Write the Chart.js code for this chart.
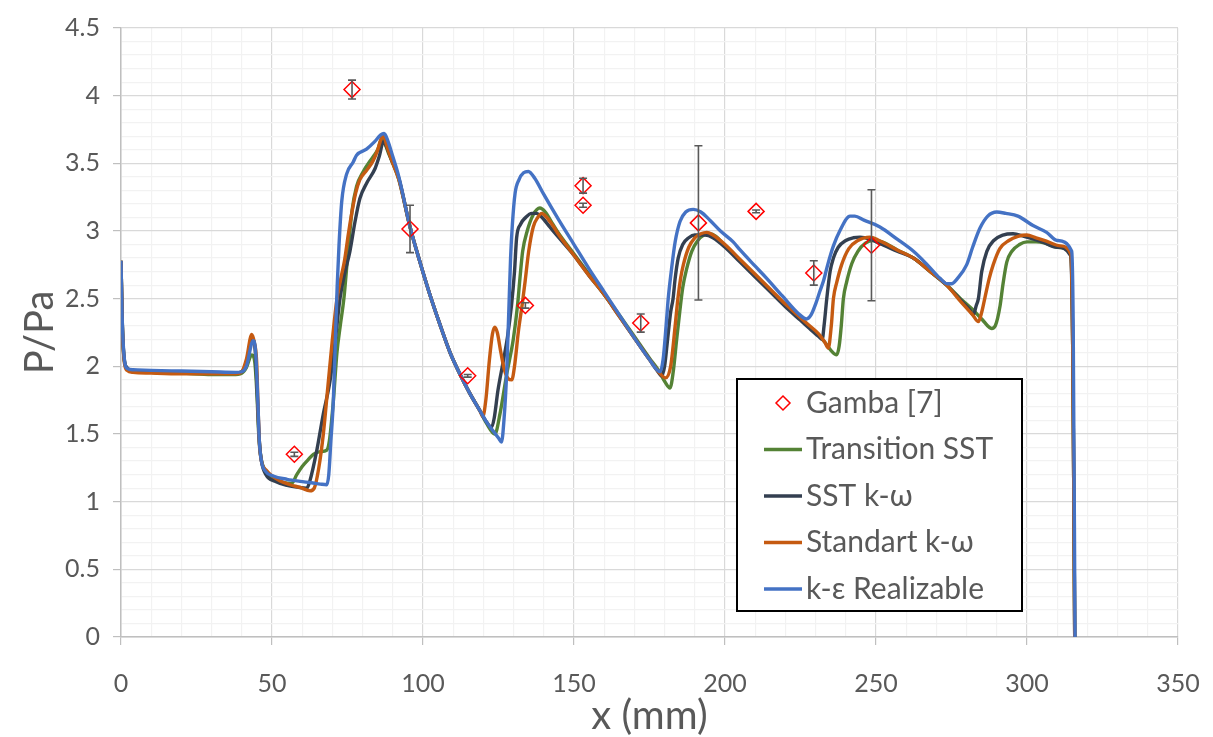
<!DOCTYPE html>
<html><head><meta charset="utf-8">
<script src="https://cdn.jsdelivr.net/npm/chart.js@4.4.1/dist/chart.umd.min.js"></script>
<style>html,body{margin:0;padding:0;background:#fff}#wrap{width:1213px;height:737px}</style>
</head><body><div id="wrap"><canvas id="c" width="1213" height="737"></canvas></div>
<script>
// ---------- DATA ----------
const gambaX   = [57.4, 76.5, 95.7, 114.8, 133.9, 153, 153, 172.1, 191.2, 210.3, 229.4, 248.5];
const gambaY   = [1.35, 4.045, 3.015, 1.93, 2.45, 3.335, 3.19, 2.32, 3.06, 3.145, 2.69, 2.895];
const gambaErr = [0.015, 0.07, 0.175, 0.01, 0.02, 0.055, 0.015, 0.067, 0.57, 0.01, 0.09, 0.41];

const transX = [0,0.4,1,2,4,10,20,30,37,40,41.5,43.3,44.3,45,45.6,46.3,47.5,50,54,56.5,58.2,60,62,63.7,66,68.1,69,70.3,71.5,72.6,73.8,75,76.5,78,80,83.5,85,86.3,87.3,88.5,90,92,95.7,99,102,105.6,109,112.3,115.5,118.9,121,123.8,125.5,127.7,129.9,131.3,132.1,133,134.5,136.5,138.7,140.5,143,145,150,155,160,165,170,175,178,180,181.8,182.8,184,185,186,187.3,189,191,193,195,197,200,205,210,215,220,225,228,231,233,235,237,237.8,238.5,239.2,240.3,242,244,246.5,249,252,257,262.4,268,273.4,278,282,285,288.3,289.5,291.1,292,293.3,295,297.5,300,303,306,310,314.5,315.2,315.8];
const transY = [2.78,2.34,2.06,1.985,1.965,1.955,1.95,1.94,1.94,1.95,1.99,2.085,2.03,1.8,1.5,1.33,1.24,1.175,1.14,1.135,1.2,1.26,1.31,1.35,1.37,1.38,1.45,1.74,2.1,2.3,2.5,2.8,3.15,3.33,3.43,3.55,3.6,3.68,3.65,3.58,3.5,3.38,3.03,2.77,2.55,2.31,2.1,1.94,1.8,1.67,1.58,1.5,1.65,1.94,2.2,2.45,2.65,2.85,3.0,3.12,3.17,3.14,3.05,2.98,2.83,2.68,2.53,2.38,2.22,2.06,1.97,1.89,1.84,1.95,2.2,2.4,2.58,2.72,2.85,2.93,2.97,2.98,2.96,2.89,2.78,2.67,2.56,2.45,2.35,2.29,2.23,2.18,2.12,2.085,2.15,2.3,2.5,2.625,2.76,2.85,2.91,2.93,2.92,2.86,2.8,2.7,2.6,2.5,2.42,2.35,2.28,2.3,2.45,2.6,2.77,2.85,2.9,2.92,2.92,2.91,2.88,2.83,2.0,0];

const sstX = [0,0.4,1,2,4,10,20,30,38,40,41.5,43.5,44.5,45.2,45.8,46.5,48,51,55,59,61.5,62.5,64.8,67,69.2,71,72.5,74,75.8,77.5,79.1,81.5,84.1,85.5,86.9,88,89.5,92,95.7,99,102,105.6,109,112.3,115.5,118.9,121,122.7,123.6,124.8,126.6,128,129.3,130.3,131,132.3,134,136,137.5,139,142,145,150,155,160,165,170,175,177.5,179,180,181,182,182.8,183.5,184.5,186,188,190,193.4,196,200,205,210,215,220,225,228,231,232.2,232.8,233.7,234.8,235.9,237.5,240,242.5,244.7,248,252,257,262.4,268,273.4,278,281,282.2,283.2,283.9,285,286.7,289,292,295.4,299,305,310,314.4,315.2,315.8];
const sstY = [2.78,2.35,2.07,1.99,1.965,1.96,1.955,1.95,1.95,1.96,2.02,2.2,2.1,1.75,1.45,1.3,1.2,1.15,1.12,1.105,1.1,1.15,1.375,1.65,1.89,2.2,2.5,2.68,2.85,3.07,3.24,3.36,3.46,3.55,3.66,3.62,3.53,3.39,3.03,2.77,2.55,2.31,2.1,1.94,1.8,1.67,1.59,1.55,1.62,1.82,2.04,2.22,2.45,2.7,2.95,3.05,3.1,3.13,3.13,3.11,3.03,2.95,2.82,2.67,2.53,2.37,2.21,2.05,1.97,1.93,2.0,2.2,2.4,2.5,2.65,2.8,2.9,2.95,2.97,2.97,2.95,2.88,2.77,2.66,2.55,2.44,2.34,2.28,2.22,2.2,2.3,2.5,2.7,2.8,2.88,2.93,2.95,2.955,2.94,2.9,2.85,2.8,2.7,2.6,2.49,2.42,2.38,2.45,2.5,2.7,2.85,2.93,2.97,2.98,2.96,2.92,2.88,2.82,2.0,0];

const stdX = [0,0.4,1,2,4,10,20,30,38,40,41.5,43.3,44.2,44.9,45.5,46,48.2,52.6,56,59.3,62.6,64,65.5,67,68.5,70,71.4,72.8,74,75.3,76.4,77.7,79.1,81.4,83.5,85,86.3,87,88,89.5,92,95.7,99,102,105.6,109,112.3,115.5,118.9,119.8,120.8,122,123,123.8,124.6,125.8,127,128.2,129.4,130.3,131.6,132.8,133.8,135,136.5,138,139.3,141,143,145,150,155,160,165,170,175,178,180.3,182,183.5,184.4,185.3,186.2,188,190,192,194,196,200,205,210,215,220,225,228,231,233,234.2,235.2,235.9,237,238.6,241,244,248,251,257,262.4,268,273.4,278,282,283.9,285,286,287.5,288.8,291,294,297,299.9,303,307,311,314.5,315.2,315.8];
const stdY = [2.78,2.33,2.05,1.97,1.955,1.95,1.945,1.945,1.945,1.96,2.05,2.235,2.17,2.04,1.62,1.375,1.23,1.155,1.125,1.105,1.08,1.1,1.25,1.5,1.85,2.2,2.48,2.65,2.78,2.98,3.13,3.28,3.38,3.45,3.52,3.6,3.69,3.7,3.63,3.53,3.38,3.03,2.77,2.55,2.31,2.1,1.94,1.8,1.67,1.63,1.75,2.05,2.24,2.29,2.25,2.1,1.97,1.91,1.9,2.0,2.26,2.45,2.625,2.85,3.03,3.1,3.13,3.1,3.04,2.97,2.82,2.67,2.53,2.37,2.21,2.05,1.96,1.915,2.0,2.3,2.5,2.65,2.75,2.88,2.95,2.98,2.99,2.97,2.9,2.79,2.68,2.57,2.46,2.36,2.3,2.24,2.18,2.135,2.3,2.5,2.62,2.75,2.87,2.93,2.955,2.93,2.86,2.8,2.7,2.6,2.48,2.38,2.33,2.4,2.5,2.65,2.75,2.87,2.93,2.96,2.97,2.95,2.92,2.89,2.83,2.0,0];

const realX = [0,0.4,1,2,4,10,20,30,38,40,41.5,43.8,44.6,45.3,45.8,46.5,48,50.4,55,59.3,63,66,68.1,68.8,69.5,70.3,71,71.6,72.2,73.1,74.7,76.9,78,81.3,84,86,87.1,88.3,90,92,95.7,99,102,105.6,109,112.3,115.5,118.9,121,123.3,125,126,126.8,127.7,128.4,129,129.6,130.5,131.8,133.3,134.9,137,140,145,150,155,160,165,170,175,178.5,179.5,180.5,181.2,182.3,183.5,185.1,187,189.5,192,195,198.5,202.7,205,210,213.8,219,224.8,227,228.5,230,231.5,232.6,234,235.9,238,241.4,243,246,251.3,257,262.4,267,271.2,273.5,275,277,280,282,284.4,287,290,293,297,302,306.5,310,314.8,315.3,315.9];
const realY = [2.78,2.35,2.08,1.985,1.975,1.97,1.965,1.96,1.955,1.96,2.0,2.19,2.1,1.75,1.45,1.3,1.22,1.19,1.165,1.15,1.14,1.13,1.125,1.2,1.45,1.74,2.2,2.6,2.9,3.22,3.42,3.51,3.56,3.605,3.66,3.71,3.72,3.67,3.55,3.4,3.03,2.77,2.55,2.31,2.1,1.94,1.8,1.67,1.59,1.52,1.47,1.44,1.6,1.95,2.4,2.8,3.05,3.28,3.38,3.43,3.44,3.39,3.27,3.08,2.9,2.72,2.55,2.38,2.21,2.05,1.96,2.05,2.3,2.5,2.72,2.92,3.07,3.14,3.16,3.14,3.08,3.0,2.92,2.86,2.74,2.65,2.52,2.38,2.35,2.38,2.46,2.56,2.63,2.75,2.89,3.0,3.11,3.11,3.08,3.03,2.94,2.85,2.75,2.65,2.61,2.61,2.65,2.75,2.88,3.02,3.11,3.14,3.13,3.11,3.04,2.99,2.93,2.85,2.3,0];

const seriesNames = ['Gamba [7]', 'Transition SST', 'SST k-\u03c9', 'Standart k-\u03c9', 'k-\u03b5 Realizable'];
const xTitle = 'x (mm)';
const yTitle = 'P/Pa';

// ---------- BUILD ----------
const pts = (xs, ys) => xs.map((x, i) => ({x, y: ys[i]}));
const FONT = 'Lato';
const TXT = '#595959';

const lineDs = (label, xs, ys, color, order) => ({
  label, data: pts(xs, ys), showLine: true, borderColor: color, backgroundColor: color,
  borderWidth: 3.4, pointRadius: 0, cubicInterpolationMode: 'monotone', order
});

const datasets = [
  { label: seriesNames[0], data: pts(gambaX, gambaY), showLine: false, pointStyle: 'rectRot',
    pointRadius: 8, borderColor: '#FF0000', backgroundColor: 'rgba(0,0,0,0)', pointBorderWidth: 1.5, order: 0 },
  lineDs(seriesNames[1], transX, transY, '#548235', 4),
  lineDs(seriesNames[2], sstX, sstY, '#333F50', 3),
  lineDs(seriesNames[3], stdX, stdY, '#C55A11', 2),
  lineDs(seriesNames[4], realX, realY, '#4472C4', 1)
];

const isMajorX = v => Math.abs(v % 50) < 1e-6;
const isMajorY = v => Math.abs(Math.round(v * 10) % 5) === 0;

const errorBars = {
  id: 'errorBars',
  afterDatasetsDraw(chart) {
    const {ctx, scales: {x, y}} = chart;
    ctx.save();
    ctx.strokeStyle = '#595959';
    ctx.lineWidth = 1.6;
    gambaX.forEach((xv, i) => {
      const px = x.getPixelForValue(xv);
      const t = y.getPixelForValue(gambaY[i] + gambaErr[i]);
      const b = y.getPixelForValue(gambaY[i] - gambaErr[i]);
      ctx.beginPath();
      ctx.moveTo(px, t); ctx.lineTo(px, b);
      ctx.moveTo(px - 4, t); ctx.lineTo(px + 4, t);
      ctx.moveTo(px - 4, b); ctx.lineTo(px + 4, b);
      ctx.stroke();
    });
    ctx.restore();
  }
};

const boxLegend = {
  id: 'boxLegend',
  afterDraw(chart) {
    const ctx = chart.ctx;
    const L = 737, T = 379, W = 285, H = 232;
    ctx.save();
    ctx.fillStyle = '#fff';
    ctx.fillRect(L, T, W, H);
    ctx.strokeStyle = '#000';
    ctx.lineWidth = 2;
    ctx.strokeRect(L, T, W, H);
    ctx.font = '30px ' + FONT;
    ctx.textBaseline = 'middle';
    ctx.textAlign = 'left';
    [0, 1, 2, 3, 4].forEach((di, k) => {
      const ds = chart.data.datasets[di];
      const cy = T + 24 + k * 46.5;
      if (di === 0) {
        ctx.strokeStyle = ds.borderColor; ctx.lineWidth = 1.5;
        ctx.beginPath();
        ctx.moveTo(783, cy - 7); ctx.lineTo(790, cy); ctx.lineTo(783, cy + 7); ctx.lineTo(776, cy); ctx.closePath();
        ctx.stroke();
      } else {
        ctx.strokeStyle = ds.borderColor; ctx.lineWidth = 3.4;
        ctx.beginPath(); ctx.moveTo(764, cy); ctx.lineTo(802, cy); ctx.stroke();
      }
      ctx.fillStyle = TXT;
      ctx.fillText(ds.label, 806, cy);
    });
    ctx.restore();
  }
};

new Chart(document.getElementById('c'), {
  type: 'scatter',
  data: { datasets },
  plugins: [errorBars, boxLegend],
  options: {
    responsive: false, animation: false, events: [],
    layout: { padding: { left: 0, right: 35, top: 25, bottom: 0 } },
    plugins: { legend: { display: false }, tooltip: { enabled: false } },
    scales: {
      x: {
        type: 'linear', min: 0, max: 350,
        afterFit(s) { s.height = 100; },
        border: { color: '#BFBFBF', width: 1.5 },
        grid: {
          color: c => isMajorX(c.tick.value) ? '#D9D9D9' : '#F2F2F2',
          tickColor: c => isMajorX(c.tick.value) ? '#BFBFBF' : 'rgba(0,0,0,0)',
          tickLength: 8, lineWidth: 1.2
        },
        ticks: {
          stepSize: 10, autoSkip: false, maxRotation: 0, padding: 2,
          color: TXT, font: { family: FONT, size: 25, lineHeight: 2.96 },
          callback: v => isMajorX(v) ? String(v) : ''
        },
        title: { display: true, text: xTitle, color: TXT, font: { family: FONT, size: 40 }, padding: { top: 0, bottom: -3 } }
      },
      y: {
        type: 'linear', min: 0, max: 4.5,
        afterFit(s) { s.width = 121; },
        border: { color: '#BFBFBF', width: 1.5 },
        grid: {
          color: c => isMajorY(c.tick.value) ? '#D9D9D9' : '#F2F2F2',
          tickColor: c => isMajorY(c.tick.value) ? '#BFBFBF' : 'rgba(0,0,0,0)',
          tickLength: 8, lineWidth: 1.2
        },
        ticks: {
          stepSize: 0.1, autoSkip: false, padding: 13,
          color: TXT, font: { family: FONT, size: 25 },
          callback: v => {
            if (!isMajorY(v)) return '';
            const r = Math.round(v * 10) / 10;
            return Number.isInteger(r) ? String(r) : r.toFixed(1);
          }
        },
        title: { display: true, text: yTitle, color: TXT, font: { family: FONT, size: 40 }, padding: { top: 16, bottom: 0 } }
      }
    }
  }
});
</script>
</body></html>
